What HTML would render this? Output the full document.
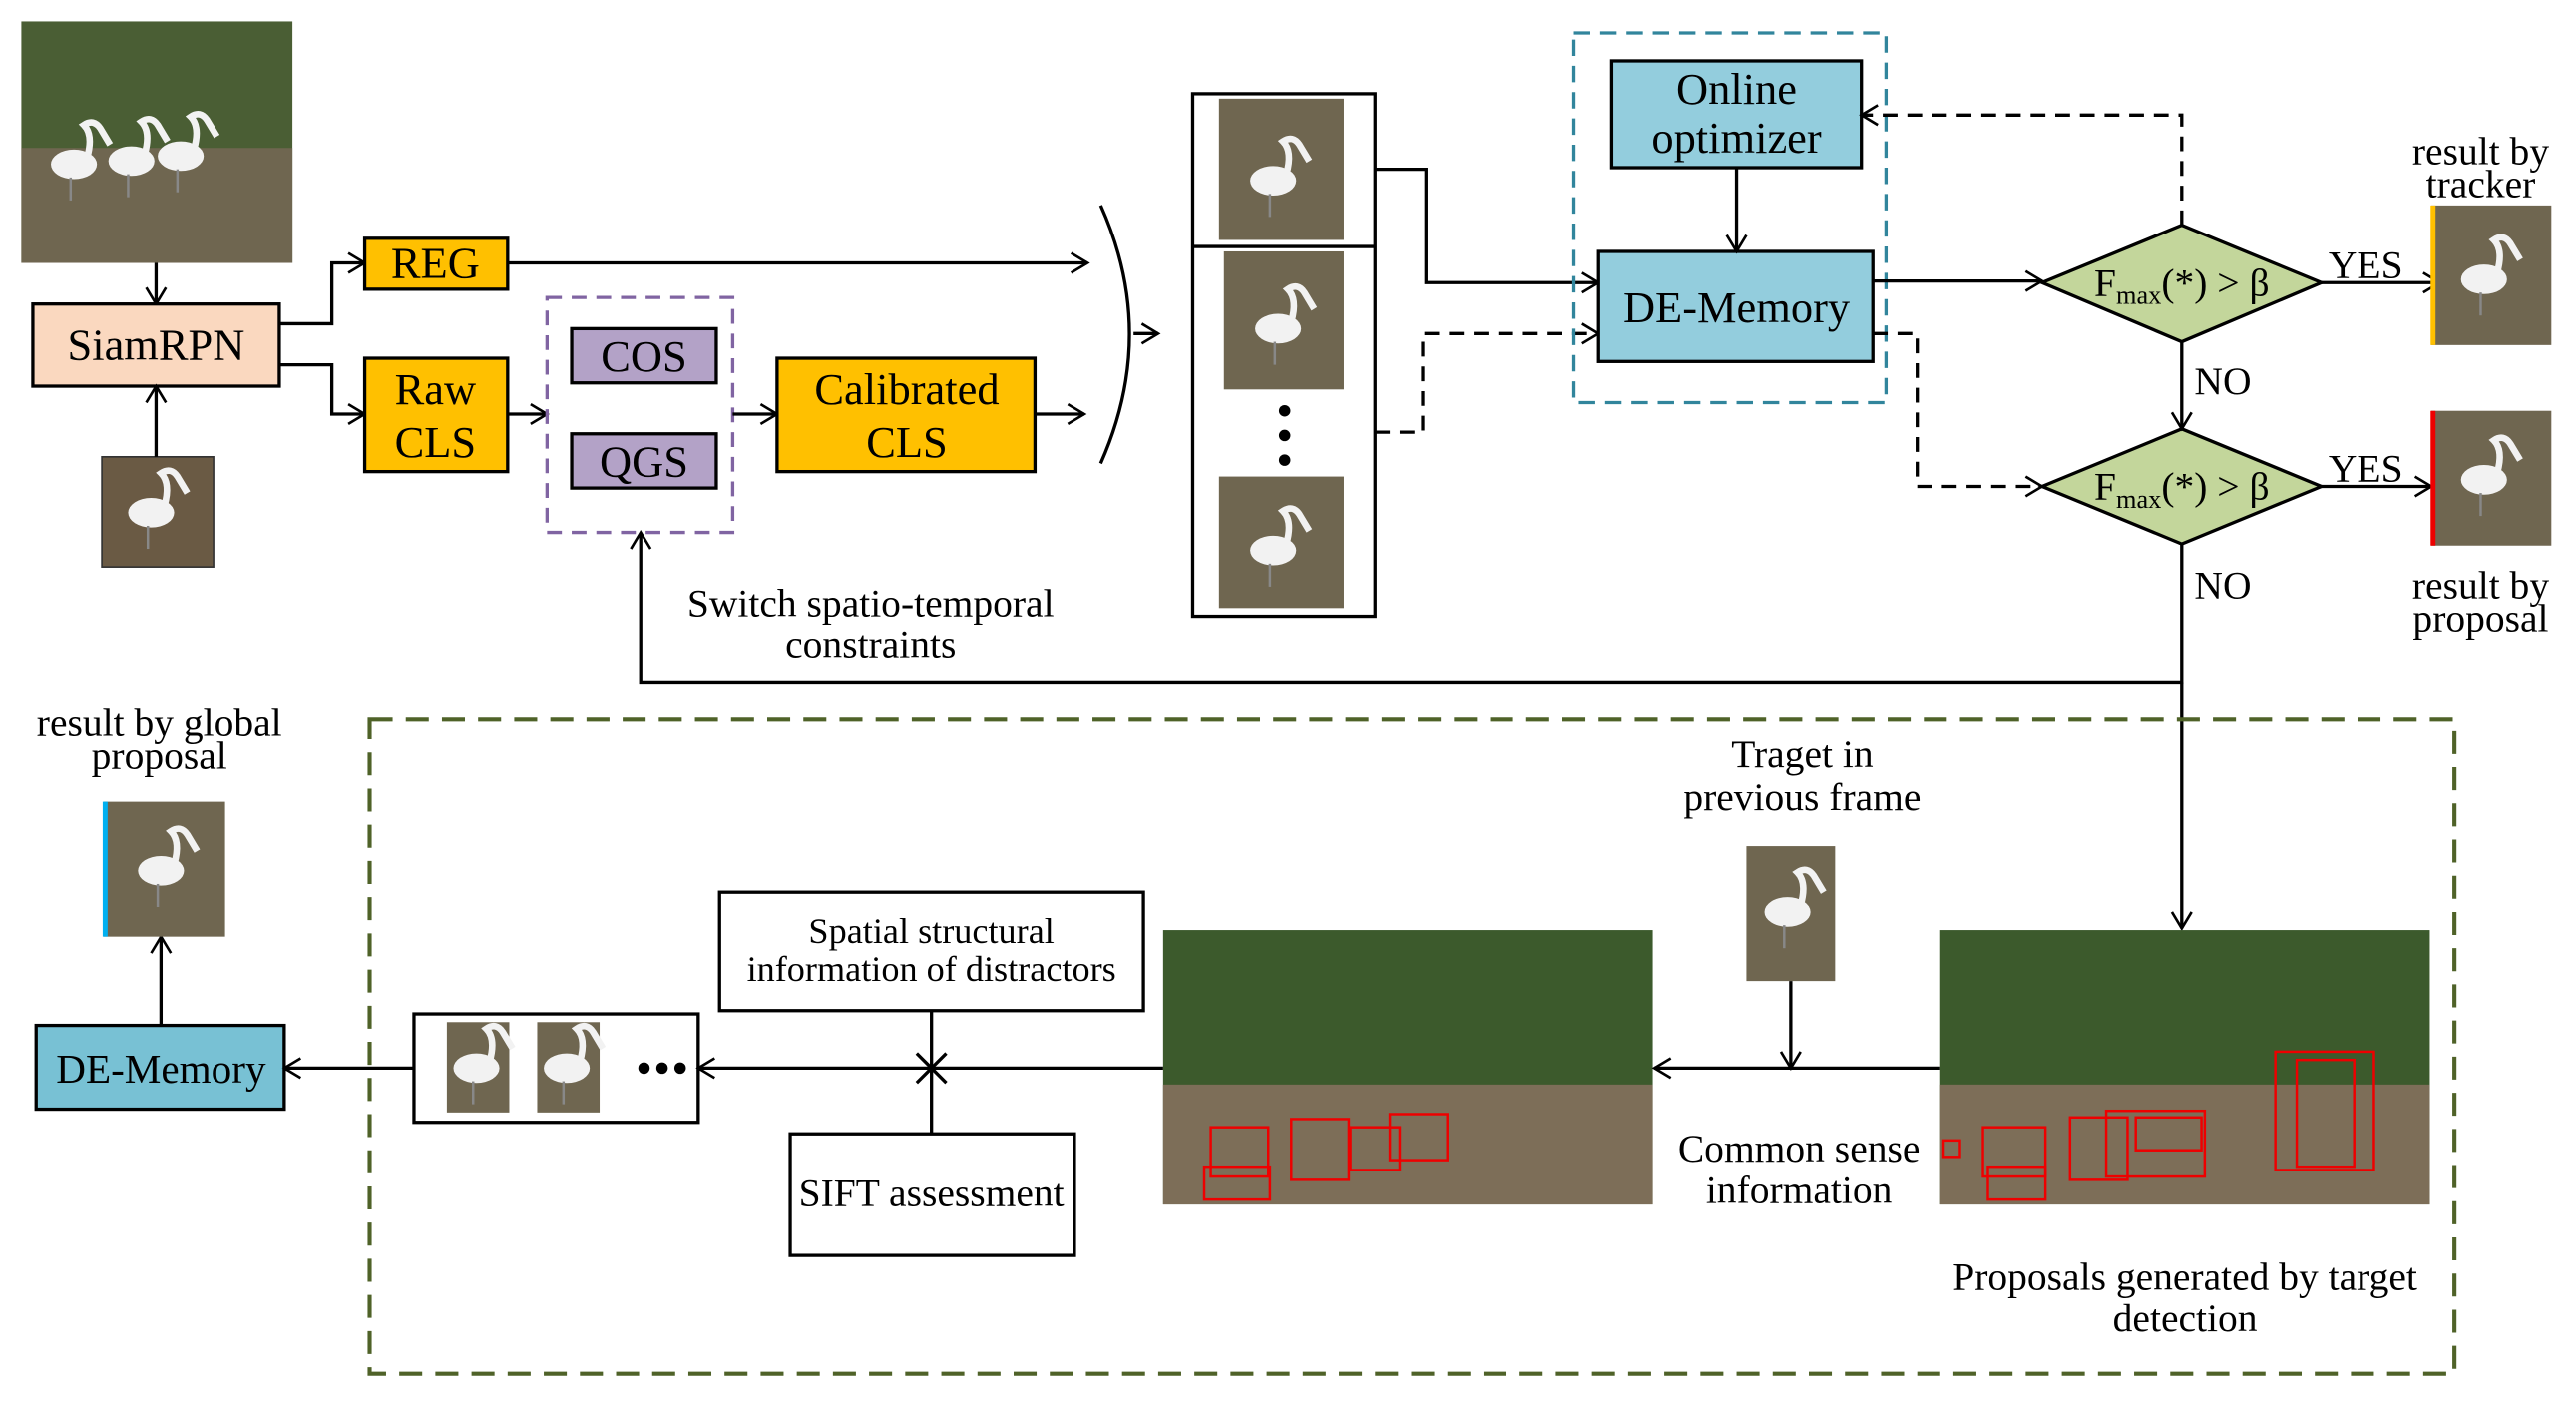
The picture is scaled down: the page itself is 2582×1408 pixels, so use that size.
<!DOCTYPE html>
<html><head><meta charset="utf-8"><style>
html,body{margin:0;padding:0;background:#fff;}
svg{display:block;}
text{font-family:"Liberation Serif",serif;fill:#000;}
</style></head><body>
<svg width="2582" height="1408" viewBox="0 0 1568 855" xmlns="http://www.w3.org/2000/svg">
<defs>
<marker id="a" markerWidth="14" markerHeight="14" refX="11" refY="7" orient="auto" markerUnits="userSpaceOnUse">
<path d="M1,1 L11,7 L1,13" fill="none" stroke="#000" stroke-width="1.6"/></marker>
<g id="bird">
<ellipse cx="0" cy="0" rx="14" ry="9" fill="#f2f2f2"/>
<path d="M8,-4 Q12,-18 6,-24 Q12,-28 16,-22 L22,-12" fill="none" stroke="#f2f2f2" stroke-width="4"/>
<line x1="-2" y1="8" x2="-2" y2="22" stroke="#888" stroke-width="1.5"/>
</g>
</defs>
<g stroke="#000" stroke-width="2" fill="none">
<rect x="13" y="13" width="165" height="147" fill="#4a5e34" stroke="none"/>
<rect x="13" y="90" width="165" height="70" fill="#6f6650" stroke="none"/>
<g stroke="none"><use href="#bird" x="45" y="100"/><use href="#bird" x="80" y="98"/><use href="#bird" x="110" y="95"/></g>
<line x1="95" y1="160" x2="95" y2="185" marker-end="url(#a)"/>
<rect x="20" y="185" width="150" height="50" fill="#fad8bf"/>
<rect x="62" y="278" width="68" height="67" fill="#6a5a44" stroke="#333" stroke-width="1"/>
<use href="#bird" x="92" y="312" stroke="none"/>
<line x1="95" y1="278" x2="95" y2="235" marker-end="url(#a)"/>
<polyline points="170,197 202,197 202,160 222,160" marker-end="url(#a)"/>
<polyline points="170,222 202,222 202,252 222,252" marker-end="url(#a)"/>
<rect x="222" y="145" width="87" height="31" fill="#ffc000"/>
<rect x="222" y="218" width="87" height="69" fill="#ffc000"/>
<line x1="309" y1="160" x2="662" y2="160" marker-end="url(#a)"/>
<line x1="309" y1="252" x2="333" y2="252" marker-end="url(#a)"/>
<rect x="333" y="181" width="113" height="143" stroke="#8064a2" stroke-dasharray="9,6"/>
<rect x="348" y="200" width="88" height="33" fill="#b3a2c7"/>
<rect x="348" y="264" width="88" height="33" fill="#b3a2c7"/>
<line x1="446" y1="252" x2="473" y2="252" marker-end="url(#a)"/>
<rect x="473" y="218" width="157" height="69" fill="#ffc000"/>
<line x1="630" y1="252" x2="660" y2="252" marker-end="url(#a)"/>
<path d="M670,125 Q705,203 670,282"/>
<line x1="690" y1="203" x2="705" y2="203" marker-end="url(#a)"/>
<rect x="726" y="57" width="111" height="318"/>
<line x1="726" y1="150" x2="837" y2="150"/>
<rect x="742" y="60" width="76" height="86" fill="#6f6650" stroke="none"/>
<rect x="745" y="153" width="73" height="84" fill="#6f6650" stroke="none"/>
<rect x="742" y="290" width="76" height="80" fill="#6f6650" stroke="none"/>
<g stroke="none"><use href="#bird" x="775" y="110"/><use href="#bird" x="778" y="200"/><use href="#bird" x="775" y="335"/></g>
<circle cx="782" cy="250" r="3.5" fill="#000" stroke="none"/>
<circle cx="782" cy="265" r="3.5" fill="#000" stroke="none"/>
<circle cx="782" cy="280" r="3.5" fill="#000" stroke="none"/>
<polyline points="837,103 868,103 868,172 973,172" marker-end="url(#a)"/>
<polyline points="837,263 866,263 866,203 973,203" stroke-dasharray="9,6" marker-end="url(#a)"/>
<rect x="958" y="20" width="190" height="225" stroke="#31859c" stroke-dasharray="10,6"/>
<rect x="981" y="37" width="152" height="65" fill="#93cddd"/>
<rect x="973" y="153" width="167" height="67" fill="#93cddd"/>
<line x1="1057" y1="102" x2="1057" y2="153" marker-end="url(#a)"/>
<line x1="1140" y1="171" x2="1243" y2="171" marker-end="url(#a)"/>
<polyline points="1140,203 1167,203 1167,296 1243,296" stroke-dasharray="9,6" marker-end="url(#a)"/>
<polygon points="1243,172 1328,137 1413,172 1328,208" fill="#c3d69b"/>
<polygon points="1243,296 1328,261 1413,296 1328,331" fill="#c3d69b"/>
<polyline points="1328,137 1328,70 1133,70" stroke-dasharray="9,6" marker-end="url(#a)"/>
<line x1="1413" y1="172" x2="1485" y2="172" marker-end="url(#a)"/>
<line x1="1328" y1="208" x2="1328" y2="261" marker-end="url(#a)"/>
<line x1="1413" y1="296" x2="1480" y2="296" marker-end="url(#a)"/>
<rect x="1480" y="125" width="73" height="85" fill="#6f6650" stroke="none"/>
<line x1="1481" y1="125" x2="1481" y2="210" stroke="#ffc000" stroke-width="3"/>
<rect x="1480" y="250" width="73" height="82" fill="#6f6650" stroke="none"/>
<line x1="1481" y1="250" x2="1481" y2="332" stroke="#e00" stroke-width="3"/>
<g stroke="none"><use href="#bird" x="1512" y="170"/><use href="#bird" x="1512" y="292"/></g>
<polyline points="1328,331 1328,415 390,415 390,324" marker-end="url(#a)"/>
<line x1="1328" y1="415" x2="1328" y2="565" marker-end="url(#a)"/>
<rect x="225" y="438" width="1269" height="398" stroke="#4f6228" stroke-width="2.5" stroke-dasharray="14,8"/>
<rect x="1181" y="566" width="298" height="167" fill="#3c5a2c" stroke="none"/>
<rect x="1181" y="660" width="298" height="73" fill="#7d6e58" stroke="none"/>
<rect x="708" y="566" width="298" height="167" fill="#3c5a2c" stroke="none"/>
<rect x="708" y="660" width="298" height="73" fill="#7d6e58" stroke="none"/>
<g stroke="#e00" stroke-width="1.5">
<rect x="1207" y="686" width="38" height="30"/><rect x="1210" y="710" width="35" height="20"/>
<rect x="1260" y="680" width="35" height="38"/><rect x="1282" y="676" width="60" height="40"/>
<rect x="1300" y="680" width="40" height="20"/><rect x="1385" y="640" width="60" height="72"/>
<rect x="1398" y="645" width="35" height="65"/><rect x="1183" y="694" width="10" height="10"/>
<rect x="737" y="686" width="35" height="30"/><rect x="733" y="710" width="40" height="20"/>
<rect x="786" y="681" width="35" height="37"/><rect x="822" y="686" width="30" height="26"/>
<rect x="846" y="678" width="35" height="28"/>
</g>
<rect x="1063" y="515" width="54" height="82" fill="#6f6650" stroke="none"/>
<use href="#bird" x="1088" y="555" stroke="none"/>
<line x1="1090" y1="597" x2="1090" y2="650" marker-end="url(#a)"/>
<line x1="1181" y1="650" x2="1007" y2="650" marker-end="url(#a)"/>
<line x1="708" y1="650" x2="425" y2="650" marker-end="url(#a)"/>
<line x1="558" y1="641" x2="576" y2="659"/><line x1="576" y1="641" x2="558" y2="659"/>
<rect x="438" y="543" width="258" height="72"/>
<rect x="481" y="690" width="173" height="74"/>
<line x1="567" y1="615" x2="567" y2="690"/>
<rect x="252" y="617" width="173" height="66"/>
<rect x="272" y="622" width="38" height="55" fill="#6f6650" stroke="none"/>
<rect x="327" y="622" width="38" height="55" fill="#6f6650" stroke="none"/>
<g stroke="none"><use href="#bird" x="290" y="650"/><use href="#bird" x="345" y="650"/></g>
<circle cx="392" cy="650" r="3.5" fill="#000" stroke="none"/><circle cx="403" cy="650" r="3.5" fill="#000" stroke="none"/><circle cx="414" cy="650" r="3.5" fill="#000" stroke="none"/>
<line x1="252" y1="650" x2="173" y2="650" marker-end="url(#a)"/>
<rect x="22" y="624" width="151" height="51" fill="#4bacc6" fill-opacity="0.75"/>
<line x1="98" y1="624" x2="98" y2="570" marker-end="url(#a)"/>
<rect x="63" y="488" width="74" height="82" fill="#6f6650" stroke="none"/>
<line x1="64" y1="488" x2="64" y2="570" stroke="#00b0f0" stroke-width="3"/>
<use href="#bird" x="98" y="530" stroke="none"/>
</g>
<g font-size="27" text-anchor="middle">
<text x="95" y="219">SiamRPN</text>
<text x="265" y="169">REG</text>
<text x="265" y="246">Raw</text><text x="265" y="278">CLS</text>
<text x="392" y="226">COS</text><text x="392" y="290">QGS</text>
<text x="552" y="246">Calibrated</text><text x="552" y="278">CLS</text>
<text x="1057" y="63">Online</text><text x="1057" y="93">optimizer</text>
<text x="1057" y="196">DE-Memory</text>
<text x="98" y="659" font-size="25">DE-Memory</text>
</g>
<g font-size="24" text-anchor="middle">
<text x="1328" y="180">F<tspan font-size="16" dy="5">max</tspan><tspan dy="-5">(*) &gt; β</tspan></text>
<text x="1328" y="304">F<tspan font-size="16" dy="5">max</tspan><tspan dy="-5">(*) &gt; β</tspan></text>
<text x="1440" y="169">YES</text><text x="1440" y="293">YES</text>
<text x="1353" y="240">NO</text><text x="1353" y="364">NO</text>
<text x="1510" y="100">result by</text><text x="1510" y="120">tracker</text>
<text x="1510" y="364">result by</text><text x="1510" y="384">proposal</text>
<text x="530" y="375">Switch spatio-temporal</text><text x="530" y="400">constraints</text>
<text x="97" y="448">result by global</text><text x="97" y="468">proposal</text>
<text x="1097" y="467">Traget in</text><text x="1097" y="493">previous frame</text>
<text x="1095" y="707">Common sense</text><text x="1095" y="732">information</text>
<text x="1330" y="785">Proposals generated by target</text><text x="1330" y="810">detection</text>
<text x="567" y="574" font-size="22">Spatial structural</text><text x="567" y="597" font-size="22">information of distractors</text>
<text x="567" y="734">SIFT assessment</text>
</g>
</svg>
</body></html>
